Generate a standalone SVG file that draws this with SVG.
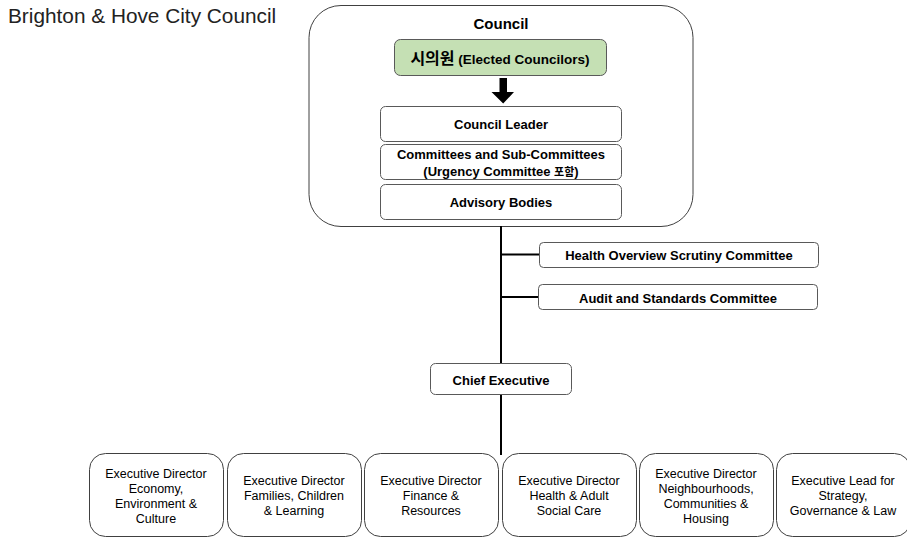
<svg xmlns="http://www.w3.org/2000/svg" width="907" height="538" viewBox="0 0 907 538">
  <style>
    text { font-family: "Liberation Sans", "Noto Sans CJK KR", sans-serif; fill: #000; text-anchor: middle; }
    .b { font-weight: bold; font-size: 13px; }
    .r { font-size: 12.5px; }
    .ko { font-family: "Noto Sans CJK KR", sans-serif; }
    .box { fill: #fff; stroke: #595959; stroke-width: 1; }
    .big { fill: #fff; stroke: #404040; stroke-width: 1; }
    .line { stroke: #000; stroke-width: 2; fill: none; }
  </style>

  <text x="8" y="23" style="font-size:20.8px; text-anchor:start; fill:#222">Brighton &amp; Hove City Council</text>

  <!-- council frame with its inner bodies -->
  <g id="council">
    <rect class="big" x="309" y="5.5" width="384" height="221" rx="32"/>
    <text x="501" y="29" style="font-weight:bold; font-size:15px">Council</text>
  </g>
  <g id="elected">
    <rect x="394.5" y="39.5" width="212" height="36" rx="6" style="fill:#c5e0b4; stroke:#595959"/>
    <text x="500" y="64"><tspan class="ko" style="font-weight:bold; font-size:16px">시의원</tspan><tspan style="font-weight:bold; font-size:13.5px"> (Elected Councilors)</tspan></text>
  </g>
  <g id="leader">
    <rect class="box" x="380.5" y="106.5" width="241" height="35" rx="5"/>
    <text class="b" x="501" y="128.5">Council Leader</text>
  </g>
  <g id="committees">
    <rect class="box" x="380.5" y="144.5" width="241" height="35" rx="5"/>
    <text class="b" x="501" y="159">Committees and Sub-Committees</text>
    <text class="b" x="501" y="175.5">(Urgency Committee <tspan class="ko" style="font-size:11px">포함</tspan>)</text>
  </g>
  <g id="advisory">
    <rect class="box" x="380.5" y="184.5" width="241" height="35" rx="5"/>
    <text class="b" x="501" y="207">Advisory Bodies</text>
  </g>

  <g id="connectors">
    <!-- block arrow from councillors down to leader -->
    <polygon points="499.5,78 507,78 507,92 514,92 503.2,103.5 491.5,92 499.5,92" fill="#000"/>
    <line class="line" x1="501" y1="226" x2="501" y2="455"/>
    <line class="line" x1="501" y1="254.5" x2="539" y2="254.5"/>
    <line class="line" x1="501" y1="297" x2="538" y2="297"/>
  </g>

  <g id="health-overview">
    <rect class="box" x="539.5" y="242.5" width="279" height="25" rx="4"/>
    <text class="b" x="679" y="260">Health Overview Scrutiny Committee</text>
  </g>
  <g id="audit">
    <rect class="box" x="538.5" y="284.5" width="279" height="25" rx="4"/>
    <text class="b" x="678" y="302.5">Audit and Standards Committee</text>
  </g>
  <g id="chief-executive">
    <rect class="box" x="430.5" y="363.5" width="141" height="31" rx="5"/>
    <text class="b" x="501" y="384.5">Chief Executive</text>
  </g>

  <g id="dir-economy">
    <rect class="big" x="89.5" y="453.5" width="134" height="83" rx="16"/>
    <text class="r" x="156" y="478">Executive Director</text>
    <text class="r" x="156" y="493">Economy,</text>
    <text class="r" x="156" y="508">Environment &amp;</text>
    <text class="r" x="156" y="523">Culture</text>
  </g>
  <g id="dir-families">
    <rect class="big" x="227.5" y="453.5" width="134" height="83" rx="16"/>
    <text class="r" x="294" y="485">Executive Director</text>
    <text class="r" x="294" y="500">Families, Children</text>
    <text class="r" x="294" y="515">&amp; Learning</text>
  </g>
  <g id="dir-finance">
    <rect class="big" x="364.5" y="453.5" width="134" height="83" rx="16"/>
    <text class="r" x="431" y="485">Executive Director</text>
    <text class="r" x="431" y="500">Finance &amp;</text>
    <text class="r" x="431" y="515">Resources</text>
  </g>
  <g id="dir-health">
    <rect class="big" x="502.5" y="453.5" width="134" height="83" rx="16"/>
    <text class="r" x="569" y="485">Executive Director</text>
    <text class="r" x="569" y="500">Health &amp; Adult</text>
    <text class="r" x="569" y="515">Social Care</text>
  </g>
  <g id="dir-neighbourhoods">
    <rect class="big" x="639.5" y="453.5" width="134" height="83" rx="16"/>
    <text class="r" x="706" y="478">Executive Director</text>
    <text class="r" x="706" y="493">Neighbourhoods,</text>
    <text class="r" x="706" y="508">Communities &amp;</text>
    <text class="r" x="706" y="523">Housing</text>
  </g>
  <g id="lead-strategy">
    <rect class="big" x="776.5" y="453.5" width="134" height="83" rx="16"/>
    <text class="r" x="843" y="485">Executive Lead for</text>
    <text class="r" x="843" y="500">Strategy,</text>
    <text class="r" x="843" y="515">Governance &amp; Law</text>
  </g>
</svg>
